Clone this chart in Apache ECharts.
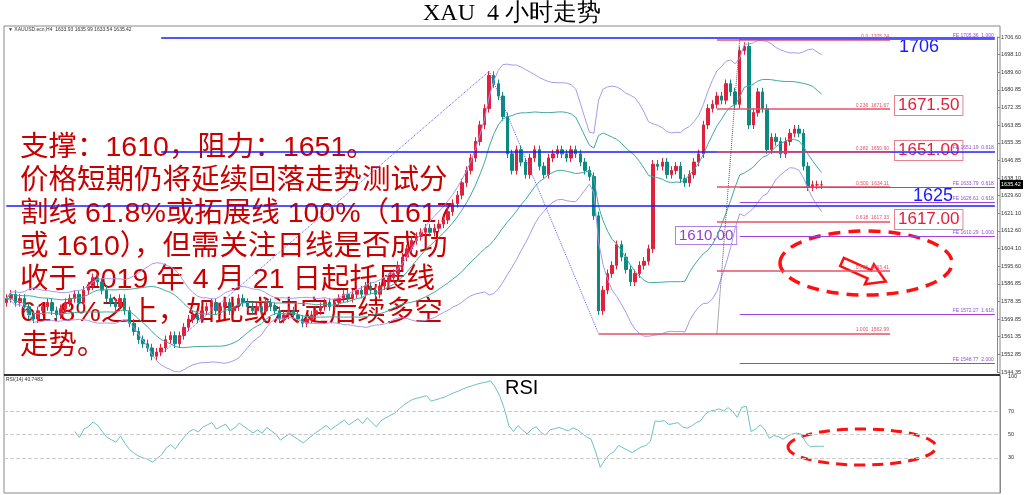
<!DOCTYPE html>
<html><head><meta charset="utf-8">
<script src="https://cdn.jsdelivr.net/npm/echarts@6/dist/echarts.min.js"></script>
<style>html,body{margin:0;padding:0;background:#fff}#c{width:1024px;height:495px}</style>
</head><body><div id="c"></div>
<script>
const closes = [1580,1582,1578,1580,1576,1572,1570,1574,1576,1578,1574,
1572,1575,1578,1580,1582,1578,1584,1586,1590,1588,1584,
1580,1578,1576,1580,1574,1568,1564,1560,1558,1556,1552,
1554,1556,1560,1562,1558,1562,1566,1570,1572,1570,1574,
1576,1578,1574,1576,1578,1574,1576,1580,1578,1576,1574,
1576,1574,1578,1576,1574,1570,1572,1574,1572,1570,1568,
1570,1572,1574,1576,1578,1576,1578,1580,1582,1580,1582,
1584,1582,1586,1584,1582,1586,1588,1590,1592,1596,1600,
1604,1608,1610,1612,1614,1612,1614,1616,1618,1622,1626,
1630,1636,1642,1648,1656,1664,1672,1688,1684,1678,1668,
1650,1642,1652,1646,1640,1648,1652,1644,1640,1648,1650,
1652,1650,1648,1652,1650,1646,1642,1639,1620,1574,1584,
1592,1596,1606,1600,1594,1588,1592,1596,1598,1604,1645,
1644,1646,1640,1642,1644,1638,1636,1640,1646,1650,1664,
1672,1674,1678,1676,1684,1680,1674,1700,1702,1664,1670,
1680,1672,1652,1658,1656,1650,1656,1660,1662,1660,1644,
1634,1635,1635,1635];
const firstOpen = 1578;
const totalSlots = 218;
const priceTicks = ["1544.35","1552.85","1561.35","1569.85","1578.35","1586.85","1595.60","1604.10","1612.60","1621.10","1629.60","1638.10","1646.85","1655.35","1663.85","1672.35","1680.85","1689.60","1698.10","1706.60"];
const rsiTicks = ["30","50","70","100"];
const blueLevels = [[1706,34],[1651,34],[1625,0]];
const fibLevels = [["0.0","1705.24",156],["0.236","1671.67",156],["0.382","1650.90",156],["0.500","1634.11",156],["0.618","1617.33",156],["0.786","1593.41",156],["1.000","1562.99",130]];
const feLevels = [["1705.36","1.000"],["1651.19","0.618"],["1633.79","0.618"],["1626.61","0.618"],["1610.29","1.000"],["1572.27","1.618"],["1548.77","2.000"]];
const textLines = ["支撑：1610，阻力：1651。","价格短期仍将延续回落走势测试分","割线 61.8%或拓展线 100%（1617","或 1610），但需关注日线是否成功","收于 2019 年 4 月 21 日起托展线","61.8%之上，如此或決定后续多空","走势。"];

const cats = Array.from({length:totalSlots},(_,i)=>i);
const ohlc = closes.map((c,i)=>{const o=i?closes[i-1]:firstOpen;return [o,c,Math.min(o,c)-2,Math.max(o,c)+2];});
function bb(k){const up=[],lo=[];closes.forEach((c,i)=>{const w=closes.slice(Math.max(0,i-19),i+1);const m=w.reduce((a,b)=>a+b,0)/w.length;const sd=Math.sqrt(w.reduce((a,b)=>a+(b-m)*(b-m),0)/w.length);up.push(+(m+k*sd).toFixed(2));lo.push(+(m-k*sd).toFixed(2));});return {up,lo};}
const b1=bb(1), b2=bb(2);
const rsi=[];{let ag=0,al=0;closes.forEach((c,i)=>{if(i===0){rsi.push(null);return;}const d=c-closes[i-1];const g=Math.max(d,0),l=Math.max(-d,0);if(i<=14){ag+=g/14;al+=l/14;rsi.push(null);return;}ag=(ag*13+g)/14;al=(al*13+l)/14;rsi.push(al===0?100:+(100-100/(1+ag/al)).toFixed(2));});}

const ml=[];
blueLevels.forEach(([p,s])=>ml.push([{coord:[s,p],lineStyle:{color:'#1a1aff',width:1.5,type:'solid'}},{coord:[totalSlots-1,p]}]));
fibLevels.forEach(([r,p,s])=>ml.push([{coord:[s,+p],lineStyle:{color:'#e8506a',width:1.5,type:'solid'},label:{show:true,formatter:r+'  '+p,position:'insideEndTop',color:'#e8506a',fontSize:5,distance:1}},{coord:[194,+p]}]));
feLevels.forEach(([p,r])=>ml.push([{coord:[161,+p],lineStyle:{color:'#a040e0',width:1.2,type:'solid'},label:{show:true,formatter:'FE '+p+'  '+r,position:'insideEndTop',color:'#9050e0',fontSize:5,distance:1}},{coord:[totalSlots-1,+p]}]));
ml.push([{coord:[34,1553],lineStyle:{color:'#5060ff',width:1,type:'dotted'}},{coord:[106,1690]}]);
ml.push([{coord:[106,1690],lineStyle:{color:'#5060ff',width:1,type:'dotted'}},{coord:[130,1563]}]);
ml.push([{coord:[156,1563],lineStyle:{color:'#555',width:1,type:'dotted'}},{coord:[161,1706]}]);

const chart=echarts.init(document.getElementById('c'));
const graphics=[
 {type:'text',left:'center',top:2,style:{text:'XAU  4 小时走势',font:'24px "Liberation Serif", serif',fill:'#000'}},
 {type:'rect',shape:{x:4,y:26,width:996,height:467},style:{fill:'none',stroke:'#888',lineWidth:1}},
 {type:'line',shape:{x1:4,y1:375,x2:1000,y2:375},style:{stroke:'#333',lineWidth:2}},
 {type:'text',x:8,y:27,style:{text:'▼ XAUUSD.ecn,H4  1633.93 1635.99 1633.54 1635.42',font:'5px sans-serif',fill:'#333'}},
 {type:'text',x:6,y:377,style:{text:'RSI(14) 40.7483',font:'5px sans-serif',fill:'#333'}},
 {type:'text',x:505,y:378,style:{text:'RSI',font:'20px "Liberation Sans", sans-serif',fill:'#000'}},
 {type:'text',x:899,y:38,style:{text:'1706',font:'18px "Liberation Sans", sans-serif',fill:'#1a1aff'}},
 {type:'text',x:913,y:187,style:{text:'1625',font:'18px "Liberation Sans", sans-serif',fill:'#1a1aff'}},
 {type:'text',x:895,y:96,style:{text:'1671.50',font:'17px "Liberation Sans", sans-serif',fill:'#e0203c',backgroundColor:'#fff',borderColor:'#e88090',borderWidth:1,padding:[1,3]}},
 {type:'text',x:895,y:141,style:{text:'1651.00',font:'17px "Liberation Sans", sans-serif',fill:'#e0203c',backgroundColor:'#fff',borderColor:'#e88090',borderWidth:1,padding:[1,3]}},
 {type:'text',x:895,y:210,style:{text:'1617.00',font:'17px "Liberation Sans", sans-serif',fill:'#e0203c',backgroundColor:'#fff',borderColor:'#e88090',borderWidth:1,padding:[1,3]}},
 {type:'text',x:676,y:227,style:{text:'1610.00',font:'15px "Liberation Sans", sans-serif',fill:'#9040d0',backgroundColor:'#fff',borderColor:'#b080e0',borderWidth:1,padding:[1,3]}},
 {type:'ellipse',shape:{cx:866,cy:263,rx:86,ry:32},style:{fill:'none',stroke:'#ff1010',lineWidth:3.5,lineDash:[12,8]}},
 {type:'ellipse',shape:{cx:862,cy:447,rx:74,ry:18},style:{fill:'none',stroke:'#ff1010',lineWidth:3,lineDash:[11,7]}},
 {type:'polygon',x:842,y:262,rotation:-0.42,shape:{points:[[0,-4.5],[30,-4.5],[30,-11],[48,0],[30,11],[30,4.5],[0,4.5]]},style:{fill:'#fff',stroke:'#ff1010',lineWidth:2.5}},
 {type:'rect',shape:{x:1000,y:180,width:23,height:9},style:{fill:'#000'}},
 {type:'text',x:1001,y:181,style:{text:'1635.42',font:'5.5px sans-serif',fill:'#fff'}}
];
textLines.forEach((t,i)=>graphics.push({type:'text',x:20,y:134+i*33,style:{text:t,font:'28.5px "Liberation Sans","Noto Sans CJK SC",sans-serif',fill:'#c80000'}}));

chart.setOption({
 animation:false,
 grid:[{left:4,right:24,top:37,height:335},{left:4,right:24,top:376,height:117}],
 xAxis:[{type:'category',data:cats,gridIndex:0,show:false,boundaryGap:true},{type:'category',data:cats,gridIndex:1,show:false,boundaryGap:true}],
 yAxis:[
  {type:'value',gridIndex:0,min:1544.35,max:1706.6,show:false},
  {type:'category',gridIndex:0,data:priceTicks,boundaryGap:false,position:'right',axisLine:{show:true,lineStyle:{color:'#888'}},axisTick:{show:true,length:3},axisLabel:{fontSize:5.5,color:'#333',margin:4},splitLine:{show:false}},
  {type:'value',gridIndex:1,min:0,max:100,position:'right',axisLine:{show:true,lineStyle:{color:'#888'}},axisTick:{show:false},splitLine:{show:false},axisLabel:{fontSize:5.5,color:'#333',customValues:rsiTicks.map(Number)}}
 ],
 series:[
  {type:'candlestick',xAxisIndex:0,yAxisIndex:0,data:ohlc,barWidth:3,itemStyle:{color:'#e0203c',color0:'#0a8a80',borderColor:'#e0203c',borderColor0:'#0a8a80',borderWidth:1},
   markLine:{symbol:'none',silent:true,data:ml,animation:false}},
  {type:'line',xAxisIndex:0,yAxisIndex:0,data:b2.up,showSymbol:false,lineStyle:{color:'#a898ee',width:1}},
  {type:'line',xAxisIndex:0,yAxisIndex:0,data:b2.lo,showSymbol:false,lineStyle:{color:'#a898ee',width:1}},
  {type:'line',xAxisIndex:0,yAxisIndex:0,data:b1.up,showSymbol:false,lineStyle:{color:'#40a8a0',width:1}},
  {type:'line',xAxisIndex:0,yAxisIndex:0,data:b1.lo,showSymbol:false,lineStyle:{color:'#40a8a0',width:1}},
  {type:'line',xAxisIndex:1,yAxisIndex:2,data:rsi,showSymbol:false,lineStyle:{color:'#6cc0c0',width:1},
   markLine:{symbol:'none',silent:true,label:{show:false},lineStyle:{color:'#ccc',type:'dashed',width:1},data:[{yAxis:30},{yAxis:50},{yAxis:70}]}}
 ],
 graphic:graphics
});
</script></body></html>
